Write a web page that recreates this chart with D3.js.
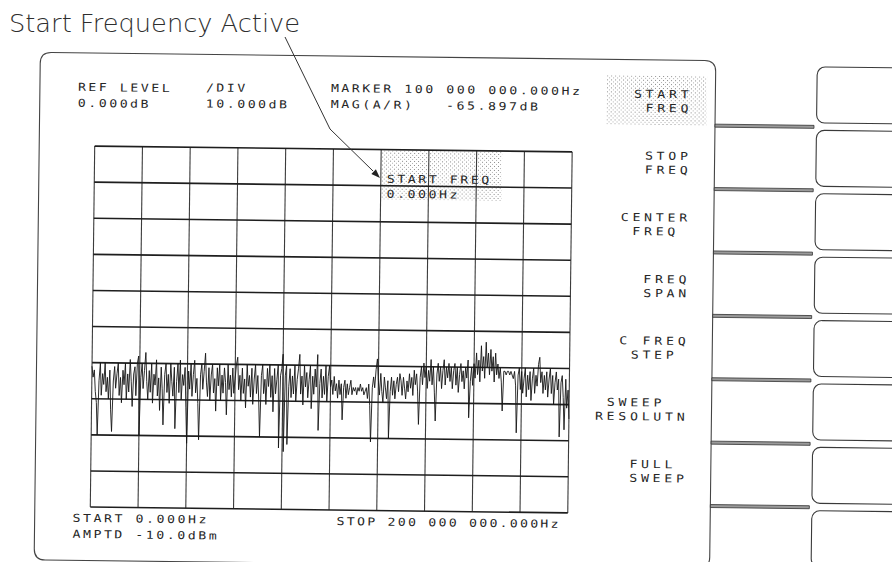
<!DOCTYPE html>
<html>
<head>
<meta charset="utf-8">
<script src="https://cdn.jsdelivr.net/npm/d3@7"></script>
<style>
  html, body { margin: 0; padding: 0; background: #fff; }
  svg { display: block; }
</style>
</head>
<body>
<svg id="chart" width="892" height="562"></svg>
<script>
// ---- Sweep setup -------------------------------------------------------
const startHz = 0;
const stopHz = 200e6;
const refLevelDb = 0;
const dbPerDiv = 10;
const xDivisions = [0, 20, 40, 60, 80, 100, 120, 140, 160, 180, 200];          // MHz
const yDivisions = [-100, -90, -80, -70, -60, -50, -40, -30, -20, -10, 0];     // dB
const markerHz = 100e6;
const sourceAmptdDbm = -10.0;

// MAG(A/R) trace, dB, 401 sweep points from start to stop
const traceDb = [
  -61, -64, -62, -68, -71, -80, -65, -60, -69, -63, -66, -60, -68, -64, -70, -62, -73, -79, -65, -61,
  -67, -63, -60, -69, -64, -71, -62, -66, -60, -70, -63, -68, -59, -65, -72, -63, -61, -69, -60, -58,
  -80, -64, -60, -67, -62, -57, -65, -70, -62, -68, -60, -71, -63, -66, -59, -69, -64, -73, -61, -67,
  -77, -63, -60, -68, -63, -71, -60, -65, -69, -61, -78, -65, -60, -68, -59, -70, -63, -66, -61, -72,
  -82, -62, -67, -60, -69, -63, -59, -68, -64, -71, -81, -63, -60, -67, -62, -57, -65, -69, -61, -70,
  -63, -60, -68, -64, -73, -61, -66, -60, -70, -63, -68, -61, -65, -74, -60, -67, -63, -69, -61, -68,
  -64, -60, -58, -67, -63, -70, -61, -68, -64, -72, -60, -66, -63, -69, -61, -71, -64, -60, -68, -63,
  -70, -80, -63, -60, -68, -64, -71, -61, -66, -60, -69, -63, -73, -61, -68, -64, -60, -83, -63, -61,
  -57, -84, -63, -60, -82, -66, -61, -69, -63, -68, -60, -70, -64, -61, -57, -68, -63, -71, -60, -66,
  -62, -69, -64, -60, -72, -63, -68, -61, -66, -57, -78, -65, -61, -69, -63, -68, -60, -70, -63, -60,
  -65.897, -64, -68, -63, -67, -65, -69, -64, -68, -65, -75, -66, -64, -69, -65, -68, -66, -64, -68, -66,
  -67, -66, -68, -66, -67, -65, -67, -66, -68, -67, -66, -69, -65, -71, -81, -66, -63, -66, -61, -58,
  -64, -68, -62, -67, -70, -63, -66, -69, -64, -80, -67, -63, -68, -64, -69, -65, -63, -67, -62, -64,
  -68, -63, -66, -69, -64, -67, -62, -66, -63, -68, -61, -65, -62, -67, -76, -63, -60, -65, -59, -63,
  -60, -66, -61, -64, -58, -65, -60, -67, -75, -62, -59, -64, -60, -66, -61, -58, -65, -60, -63, -59,
  -64, -60, -66, -61, -59, -65, -60, -67, -62, -59, -64, -61, -66, -60, -63, -58, -74, -64, -60, -65,
  -59, -63, -56, -62, -58, -64, -54, -61, -57, -63, -53, -60, -56, -62, -55, -61, -57, -64, -56, -62,
  -59, -63, -60, -64, -72, -61, -61, -62, -61, -61, -62, -61, -62, -63, -61, -65, -78, -62, -60, -66,
  -61, -67, -63, -60, -68, -62, -66, -61, -69, -63, -60, -67, -62, -65, -59, -57, -64, -61, -67, -62,
  -66, -61, -68, -63, -60, -67, -62, -70, -64, -61, -66, -63, -79, -64, -62, -68, -77, -63, -71, -66,
  -74
];

// Softkey menu labels (8-character fields)
const softkeys = [
  ["   START", "    FREQ"],
  ["    STOP", "    FREQ"],
  ["  CENTER", "   FREQ"],
  ["    FREQ", "    SPAN"],
  ["  C FREQ", "   STEP"],
  [" SWEEP", "RESOLUTN"],
  ["   FULL", "   SWEEP"]
];
const activeSoftkey = 0;
const titleText = "Start Frequency Active";

// ---- Helpers -----------------------------------------------------------
function fmtHz(hz) {
  const whole = Math.floor(hz).toString();
  const groups = [];
  for (let i = whole.length; i > 0; i -= 3) groups.unshift(whole.slice(Math.max(0, i - 3), i));
  return groups.join(" ") + ".000Hz";
}

const svg = d3.select("#chart");
const defs = svg.append("defs");
const stip = defs.append("pattern").attr("id", "stipple")
  .attr("width", 4).attr("height", 4).attr("patternUnits", "userSpaceOnUse");
stip.append("rect").attr("x", 0).attr("y", 0).attr("width", 1).attr("height", 1).attr("fill", "#8a8a8a");
stip.append("rect").attr("x", 2).attr("y", 2).attr("width", 1).attr("height", 1).attr("fill", "#b0b0b0");

// Stroke-font style monospaced text
function mono(g, x, y, str, adv, color) {
  const fs = 11, sx = 1.2;
  const ls = adv / sx - 0.602 * fs;
  return g.append("text")
    .attr("transform", `translate(${x},${y}) scale(${sx},1)`)
    .attr("font-family", "DejaVu Sans Mono")
    .attr("font-size", fs)
    .attr("letter-spacing", ls.toFixed(2))
    .attr("fill", color || "#262626")
    .text(str.replace(/ /g, "\u00a0"));
}

svg.append("rect").attr("width", 892).attr("height", 562).attr("fill", "#fff");

// ---- Instrument screen (slightly tilted) ------------------------------
const screen = svg.append("g").attr("transform", "rotate(0.7, 333, 328)");

// screen bezel
const pL = 37, pT = 56, pR = 712.5, pB = 563.5, r = 11;
screen.append("path")
  .attr("d", `M${pL},${pB - r} L${pL},${pT + r} Q${pL},${pT} ${pL + r},${pT} L${pR - r},${pT} Q${pR},${pT} ${pR},${pT + r} L${pR},${pB - r} Q${pR},${pB} ${pR - r},${pB} L${pL + r},${pB} Q${pL},${pB} ${pL},${pB - r}`)
  .attr("fill", "none").attr("stroke", "#444").attr("stroke-width", 1.1);

// softkey buttons and connectors
const keyTop = 61, keyPitch = 63.4, keyH = 56;
d3.range(8).forEach(i => {
  screen.append("rect")
    .attr("x", 814).attr("y", keyTop + i * keyPitch)
    .attr("width", 140).attr("height", keyH).attr("rx", 8)
    .attr("fill", "none").attr("stroke", "#3a3a3a").attr("stroke-width", 1.1);
});
d3.range(7).forEach(i => {
  screen.append("rect")
    .attr("x", pR).attr("y", keyTop + keyH + 2.5 + i * keyPitch)
    .attr("width", 99).attr("height", 3)
    .attr("fill", "#9a9a9a").attr("stroke", "#333").attr("stroke-width", 0.8);
});

// scales
const x = d3.scaleLinear().domain([startHz / 1e6, stopHz / 1e6]).range([92.5, 570]);
const y = d3.scaleLinear().domain([refLevelDb - 10 * dbPerDiv, refLevelDb]).range([510, 149]);

// active entry highlight
screen.append("rect")
  .attr("x", x(120)).attr("y", y(0)).attr("width", 121).attr("height", 50)
  .attr("fill", "url(#stipple)");
// active softkey highlight
const skTop = 94 - 22 + activeSoftkey * 61.7;
screen.append("rect")
  .attr("x", 604).attr("y", skTop).attr("width", 100).attr("height", 49)
  .attr("fill", "url(#stipple)");

// graticule
const grid = screen.append("g");
grid.selectAll("line.v").data(xDivisions).join("line").attr("class", "v")
  .attr("x1", d => x(d)).attr("x2", d => x(d))
  .attr("y1", y(0)).attr("y2", y(-100))
  .attr("stroke", "#3c3c3c").attr("stroke-width", 1.1);
grid.selectAll("line.h").data(yDivisions).join("line").attr("class", "h")
  .attr("x1", x(0)).attr("x2", x(200))
  .attr("y1", d => y(d)).attr("y2", d => y(d))
  .attr("stroke", "#1e1e1e").attr("stroke-width", 1.6);

// trace
const n = traceDb.length;
const stepMHz = (stopHz - startHz) / 1e6 / (n - 1);
const line = d3.line().x((d, i) => x(startHz / 1e6 + i * stepMHz)).y(d => y(d));
screen.append("path").datum(traceDb)
  .attr("d", line)
  .attr("fill", "none").attr("stroke", "#161616").attr("stroke-width", 0.9)
  .attr("stroke-linejoin", "miter");

// header annotations
const markerIdx = Math.round((markerHz - startHz) / (stopHz - startHz) * (n - 1));
const markerDb = traceDb[markerIdx];
mono(screen, 75, 94, "REF LEVEL", 10.5);
mono(screen, 75, 110, refLevelDb.toFixed(3) + "dB", 10.5);
mono(screen, 203, 93, "/DIV", 10.5);
mono(screen, 203, 109, dbPerDiv.toFixed(3) + "dB", 10.5);
mono(screen, 328, 92, "MARKER " + fmtHz(markerHz), 10.5);
mono(screen, 328, 108, "MAG(A/R)   " + markerDb.toFixed(3) + "dB", 10.5);

// active entry text
mono(screen, 385, 182, "START FREQ", 10.5);
mono(screen, 385, 197, fmtHz(startHz), 10.5);

// footer annotations
mono(screen, 75, 525, "START " + fmtHz(startHz), 10.5);
mono(screen, 75, 541, "AMPTD " + sourceAmptdDbm.toFixed(1) + "dBm", 10.5);
mono(screen, 339, 525, "STOP " + fmtHz(stopHz), 10.2);

// softkey labels
softkeys.forEach((pair, i) => {
  pair.forEach((s, j) => {
    const lead = s.length - s.trimStart().length;
    mono(screen, 596 + lead * 11.7, 94 + i * 61.7 + j * 14, s.trim(), 11.7);
  });
});

// ---- Caption and pointer ---------------------------------------------
svg.append("text")
  .attr("x", 9).attr("y", 32)
  .attr("font-family", "DejaVu Sans").attr("font-weight", 200)
  .attr("font-size", 24).attr("fill", "#2e2e2e")
  .attr("textLength", 291).attr("lengthAdjust", "spacingAndGlyphs")
  .text(titleText);

const arrowPts = [[285, 37], [330, 129], [373, 171], [380, 178]];
svg.append("path")
  .attr("d", d3.line()(arrowPts.slice(0, 3)))
  .attr("fill", "none").attr("stroke", "#333").attr("stroke-width", 1);
const tip = arrowPts[3], from = arrowPts[2];
const dx = tip[0] - from[0], dy = tip[1] - from[1], len = Math.hypot(dx, dy);
const ux = dx / len, uy = dy / len, hl = 9, hw = 3.2;
svg.append("path")
  .attr("d", `M${tip[0]},${tip[1]} L${tip[0] - ux * hl - uy * hw},${tip[1] - uy * hl + ux * hw} L${tip[0] - ux * hl + uy * hw},${tip[1] - uy * hl - ux * hw} Z`)
  .attr("fill", "#222");
</script>
</body>
</html>
